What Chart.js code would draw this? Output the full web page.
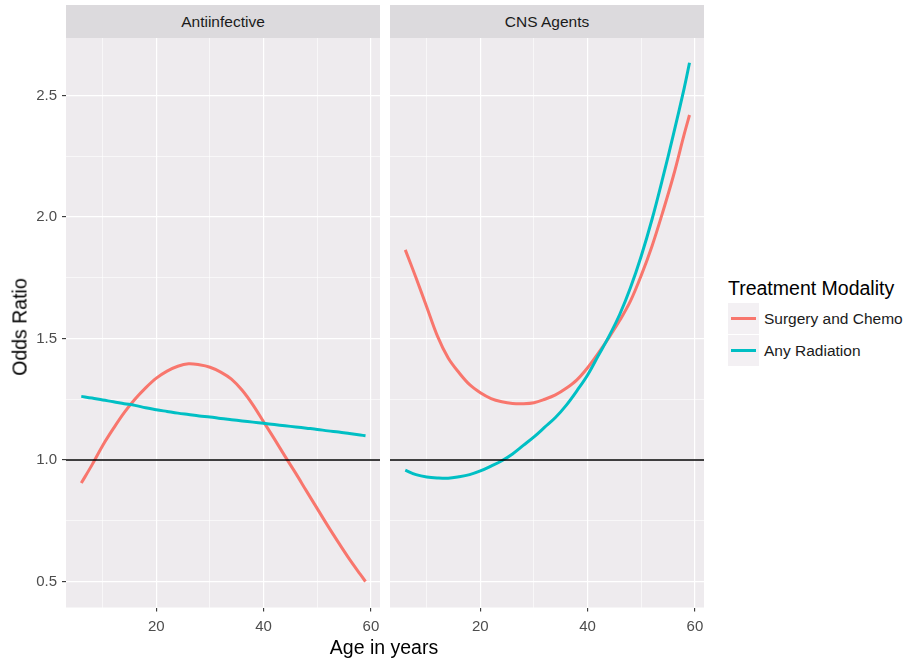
<!DOCTYPE html>
<html>
<head>
<meta charset="utf-8">
<script src="https://cdn.jsdelivr.net/npm/chart.js@4.4.1/dist/chart.umd.min.js"></script>
<style>
  body { margin: 0; width: 909px; height: 663px; background: #fff; position: relative; overflow: hidden;
         font-family: "Liberation Sans", Arial, sans-serif; }
  .abs { position: absolute; }
  .strip { top: 5px; height: 33px; line-height: 33px; background: #DCDADD; color: #1a1a1a;
           font-size: 15.5px; text-align: center; }
  .panel { top: 38px; height: 600px; }
  .key { left: 728px; width: 31px; height: 31px; background: #F3F0F3; }
  .key i { position: absolute; left: 3px; right: 3px; top: 14px; height: 3px; }
  .klab { left: 764px; font-size: 15.5px; color: #1a1a1a; line-height: 31px; }
</style>
</head>
<body>
<div class="abs strip" style="left:66px;width:314px" id="s1"></div>
<div class="abs strip" style="left:390px;width:314px" id="s2"></div>
<div class="abs panel" style="left:0;width:380px"><canvas id="c-anti"></canvas></div>
<div class="abs panel" style="left:390px;width:314px"><canvas id="c-cns"></canvas></div>
<div class="abs" style="left:20px;top:327px;transform:translate(-50%,-50%) rotate(-90deg);font-size:19.5px;white-space:nowrap">Odds Ratio</div>
<div class="abs" style="left:384px;top:647px;transform:translate(-50%,-50%);font-size:19.5px;white-space:nowrap">Age in years</div>
<div class="abs" style="left:728px;top:277px;font-size:19.5px;line-height:22px;white-space:nowrap">Treatment Modality</div>
<div id="legend"></div>
<script>
"use strict";

/* ── data ────────────────────────────────────────────────────── */
const PANELS = ["Antiinfective", "CNS Agents"];
const SERIES = ["Surgery and Chemo", "Any Radiation"];
const COLORS = ["#F8766D", "#00BFC4"];

const AGE = [6, 8, 10, 12, 14, 16, 18, 20, 22, 24, 26, 28, 30, 32, 34, 36, 38, 40, 42, 44, 46, 48, 50, 52, 54, 56, 58, 59];

const ANTI_SURG = [0.905, 0.98, 1.06, 1.13, 1.195, 1.25, 1.297, 1.337, 1.366, 1.386, 1.396, 1.392, 1.382, 1.362,
                   1.333, 1.287, 1.227, 1.157, 1.087, 1.015, 0.945, 0.872, 0.800, 0.728, 0.659, 0.592, 0.530, 0.500];
const ANTI_RAD  = [1.262, 1.255, 1.247, 1.24, 1.232, 1.225, 1.215, 1.207, 1.2, 1.193, 1.187, 1.181, 1.177, 1.171,
                   1.166, 1.161, 1.156, 1.151, 1.146, 1.141, 1.136, 1.131, 1.126, 1.12, 1.115, 1.109, 1.103, 1.10];
const CNS_SURG  = [1.865, 1.75, 1.63, 1.51, 1.42, 1.36, 1.31, 1.277, 1.253, 1.24, 1.233, 1.232, 1.236, 1.25,
                   1.268, 1.295, 1.33, 1.38, 1.44, 1.505, 1.575, 1.655, 1.76, 1.88, 2.02, 2.17, 2.34, 2.42];
const CNS_RAD   = [0.958, 0.94, 0.93, 0.926, 0.925, 0.931, 0.94, 0.955, 0.975, 0.997, 1.025, 1.06, 1.095, 1.135,
                   1.175, 1.225, 1.285, 1.35, 1.43, 1.51, 1.60, 1.71, 1.84, 1.99, 2.16, 2.34, 2.53, 2.635];

const REF_LINE = 1.0;

const X_GRID = [10, 20, 30, 40, 50, 60];
const X_LABELS = [20, 40, 60];
const Y_GRID = [0.5, 0.75, 1.0, 1.25, 1.5, 1.75, 2.0, 2.25, 2.5];
const Y_LABELS = [0.5, 1.0, 1.5, 2.0, 2.5];
const X_MIN = 3.15, X_MAX = 61.7, Y_MIN = 0.393, Y_MAX = 2.737;

const PANEL_BG = "#EEEBEE";
const TICK_COL = "#333333";

Chart.defaults.font.family = '"Liberation Sans", Arial, sans-serif';
Chart.defaults.font.size = 15;
Chart.defaults.color = "#4D4D4D";

const panelBg = {
  id: "panelBg",
  beforeDraw(c) {
    const a = c.chartArea, ctx = c.ctx;
    ctx.save();
    ctx.fillStyle = PANEL_BG;
    ctx.fillRect(a.left, a.top, a.right - a.left, a.bottom - a.top);
    ctx.restore();
  },
};

const pts = (ys) => AGE.map((x, i) => ({ x, y: ys[i] }));
const isIn = (arr, v) => arr.some(a => Math.abs(a - v) < 1e-6);

function mk(id, surg, rad, showY) {
  const el = document.getElementById(id);
  new Chart(el, {
    type: "line",
    data: {
      datasets: [
        { data: [{ x: X_MIN, y: REF_LINE }, { x: X_MAX, y: REF_LINE }], borderColor: "#000", borderWidth: 1.5, tension: 0 },
        { label: SERIES[1], data: pts(rad), borderColor: COLORS[1], borderWidth: 3 },
        { label: SERIES[0], data: pts(surg), borderColor: COLORS[0], borderWidth: 3 },
      ],
    },
    options: {
      responsive: true,
      maintainAspectRatio: false,
      animation: false,
      layout: { padding: 0 },
      elements: { point: { radius: 0 }, line: { fill: false, tension: 0.35 } },
      scales: {
        x: {
          type: "linear", min: X_MIN, max: X_MAX,
          afterBuildTicks: s => { s.ticks = X_GRID.map(v => ({ value: v })); },
          afterFit: s => { s.height = 30.5; s.paddingLeft = 0; s.paddingRight = 0; },
          border: { display: false },
          grid: {
            color: "#fff",
            lineWidth: c => (c.tick && isIn(X_LABELS, c.tick.value)) ? 1.2 : 0.6,
            tickColor: c => (c.tick && isIn(X_LABELS, c.tick.value)) ? TICK_COL : "rgba(0,0,0,0)",
            tickWidth: 1.1, tickLength: 4,
          },
          ticks: {
            autoSkip: false, maxRotation: 0, padding: 6,
            callback: v => isIn(X_LABELS, v) ? String(v) : "",
          },
        },
        y: {
          type: "linear", min: Y_MIN, max: Y_MAX,
          afterBuildTicks: s => { s.ticks = Y_GRID.map(v => ({ value: v })); },
          afterFit: s => { s.width = showY ? 66 : 0; s.paddingTop = 0; s.paddingBottom = 0; },
          border: { display: false },
          grid: {
            color: "#fff",
            lineWidth: c => (c.tick && isIn(Y_LABELS, c.tick.value)) ? 1.2 : 0.6,
            tickColor: c => (c.tick && isIn(Y_LABELS, c.tick.value)) ? TICK_COL : "rgba(0,0,0,0)",
            tickWidth: 1.1, tickLength: 4, drawTicks: showY,
          },
          ticks: {
            display: showY, autoSkip: false, padding: 5,
            callback: v => isIn(Y_LABELS, v) ? v.toFixed(1) : "",
          },
        },
      },
      plugins: { legend: { display: false }, tooltip: { enabled: false } },
    },
    plugins: [panelBg],
  });
}

document.getElementById("s1").textContent = PANELS[0];
document.getElementById("s2").textContent = PANELS[1];

mk("c-anti", ANTI_SURG, ANTI_RAD, true);
mk("c-cns", CNS_SURG, CNS_RAD, false);

/* ── legend ──────────────────────────────────────────────────── */
(function () {
  const box = document.getElementById("legend");
  SERIES.forEach((name, i) => {
    const top = 303 + i * 32;
    box.insertAdjacentHTML("beforeend",
      `<div class="abs key" style="top:${top}px"><i style="background:${COLORS[i]}"></i></div>` +
      `<div class="abs klab" style="top:${top}px">${name}</div>`);
  });
})();
</script>
</body>
</html>
